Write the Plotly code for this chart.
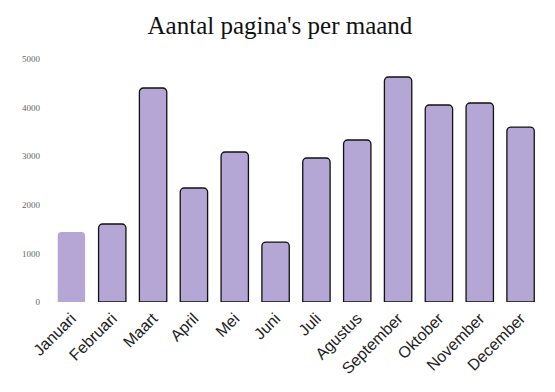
import plotly.graph_objects as go

months = ["Januari", "Februari", "Maart", "April", "Mei", "Juni", "Juli",
          "Agustus", "September", "Oktober", "November", "December"]
pages = [1440, 1605, 4403, 2346, 3086, 1234, 2963, 3333, 4630, 4053, 4095, 3600]

line_colors = ["rgba(0,0,0,0)"] + ["#111111"] * (len(months) - 1)
fill_colors = ["#b4a7d6"] * len(months)

fig = go.Figure(go.Bar(
    x=months, y=pages,
    marker=dict(color=fill_colors, line=dict(color=line_colors, width=1.3)),
))
fig.update_layout(
    width=555, height=392,
    margin=dict(l=43, r=22, t=51, b=98, autoexpand=False),
    paper_bgcolor="white", plot_bgcolor="white",
    bargap=0.33, barcornerradius=4,
    showlegend=False,
    title=dict(text="Aantal pagina's per maand", x=0.49, xanchor="center",
               yref="container", y=0.957, yanchor="middle",
               font=dict(family="Liberation Serif, Times New Roman, serif", size=25, color="#111")),
)
fig.update_yaxes(range=[0, 5000], dtick=1000, showgrid=False, zeroline=False, showline=False,
                 automargin=False,
                 tickfont=dict(family="Liberation Serif, Georgia, serif", size=9, color="#666"),
                 ticklabelstandoff=10)
fig.update_xaxes(tickangle=-45, showgrid=False, showline=False, ticks="", automargin=False,
                 ticklabelstandoff=3,
                 tickfont=dict(family="Liberation Sans, Arial, sans-serif", size=16, color="#222"))
fig.write_html("out.html")
